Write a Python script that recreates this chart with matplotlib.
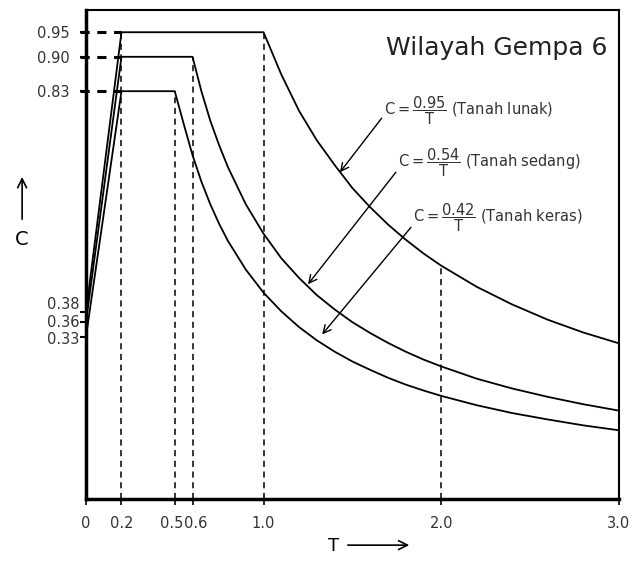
import matplotlib.pyplot as plt
from matplotlib.patches import FancyArrowPatch
from matplotlib.transforms import ScaledTranslation

plt.rcParams['mathtext.fontset'] = 'dejavusans'

# response spectrum, Wilayah Gempa 6
T_lunak = [0.0, 0.2, 1.0, 1.1, 1.2, 1.3, 1.4, 1.5, 1.6, 1.7, 1.8, 1.9, 2.0, 2.2, 2.4, 2.6, 2.8, 3.0]
C_lunak = [0.38, 0.95, 0.95, 0.864, 0.79, 0.73, 0.68, 0.633, 0.594, 0.559, 0.528, 0.50, 0.475,
           0.432, 0.396, 0.365, 0.339, 0.317]

T_sedang = [0.0, 0.2, 0.6, 0.65, 0.7, 0.75, 0.8, 0.9, 1.0, 1.1, 1.2, 1.3, 1.4, 1.5, 1.6, 1.7, 1.8,
            1.9, 2.0, 2.2, 2.4, 2.6, 2.8, 3.0]
C_sedang = [0.36, 0.90, 0.90, 0.83, 0.77, 0.72, 0.675, 0.60, 0.54, 0.49, 0.45, 0.415, 0.386, 0.36,
            0.338, 0.318, 0.30, 0.284, 0.27, 0.245, 0.225, 0.208, 0.193, 0.18]

T_keras = [0.0, 0.2, 0.5, 0.55, 0.6, 0.65, 0.7, 0.75, 0.8, 0.9, 1.0, 1.1, 1.2, 1.3, 1.4, 1.5, 1.6,
           1.7, 1.8, 1.9, 2.0, 2.2, 2.4, 2.6, 2.8, 3.0]
C_keras = [0.33, 0.83, 0.83, 0.764, 0.70, 0.646, 0.60, 0.56, 0.525, 0.467, 0.42, 0.382, 0.35, 0.323,
           0.30, 0.28, 0.263, 0.247, 0.233, 0.221, 0.21, 0.191, 0.175, 0.162, 0.15, 0.14]

xticks = [0, 0.2, 0.5, 0.6, 1.0, 2.0, 3.0]
xlabels = ['0', '0.2', '0.5', '0.6', '1.0', '2.0', '3.0']
yticks_top = [0.95, 0.90, 0.83]
yticks_low = [0.38, 0.36, 0.33]

# dashed guide lines: (T, C top)
vguides = [(0.2, 0.95), (0.5, 0.83), (0.6, 0.90), (1.0, 0.95), (2.0, 0.475)]

labels = [r'$\mathrm{C} = \dfrac{0.95}{\mathrm{T}}$ (Tanah lunak)',
          r'$\mathrm{C} = \dfrac{0.54}{\mathrm{T}}$ (Tanah sedang)',
          r'$\mathrm{C} = \dfrac{0.42}{\mathrm{T}}$ (Tanah keras)']

fig = plt.figure(figsize=(6.32, 5.62), dpi=100)
ax = fig.add_axes([0.136, 0.112, 0.843, 0.870])

ax.plot(T_lunak, C_lunak, color='black', lw=1.3)
ax.plot(T_sedang, C_sedang, color='black', lw=1.3)
ax.plot(T_keras, C_keras, color='black', lw=1.3)

for t, c in vguides:
    ax.plot([t, t], [0, c], color='black', lw=1.1, linestyle=(0, (4, 3)))
for c in yticks_top:
    ax.plot([-0.035, 0.2], [c, c], color='black', lw=2.2, linestyle=(0, (3, 2.5)), clip_on=False)

ax.set_xlim(0, 3.0)
ax.set_ylim(0, 0.995)
ax.set_xticks(xticks)
ax.set_xticklabels(xlabels, fontsize=10.5, color='#333333')
ax.set_yticks(yticks_top + yticks_low)
ax.set_yticklabels([f'{v:.2f}' for v in yticks_top] + ['', '', ''], fontsize=10.5, color='#333333')
ax.tick_params(axis='y', length=4, width=1.5, pad=8)
ax.tick_params(axis='x', length=4, width=1.2, pad=8)

# 0.5 and 0.6 sit tight together, nudge them apart a bit
xtl = ax.get_xticklabels()
for lbl, dx in [(xtl[2], -3), (xtl[3], 3)]:
    lbl.set_transform(lbl.get_transform() + ScaledTranslation(dx / 100, 0, fig.dpi_scale_trans))

# low tick labels are spread apart in the original so they don't overlap
for v, ypos in zip(yticks_low, [0.396, 0.360, 0.325]):
    ax.text(-0.035, ypos, f'{v:.2f}', fontsize=10.5, color='#333333', ha='right', va='center',
            clip_on=False)

for side in ['left', 'bottom']:
    ax.spines[side].set_linewidth(2.5)
for side in ['top', 'right']:
    ax.spines[side].set_linewidth(1.5)

# annotations with arrows
arrows = [((1.43, 0.665), (1.665, 0.775), (1.68, 0.79)),
          ((1.25, 0.437), (1.745, 0.665), (1.755, 0.685)),
          ((1.33, 0.335), (1.83, 0.553), (1.84, 0.573))]
for lab, (tip, tail, txt) in zip(labels, arrows):
    ax.annotate('', xy=tip, xytext=tail,
                arrowprops=dict(arrowstyle='->', lw=1.0, color='black', mutation_scale=14,
                                shrinkA=0, shrinkB=0))
    ax.text(txt[0], txt[1], lab, fontsize=10.5, color='#333333', ha='left', va='center')

ax.text(0.979, 0.922, 'Wilayah Gempa 6', transform=ax.transAxes, fontsize=18,
        ha='right', va='center', color='#222222')

# axis labels with arrows
fig.text(0.035, 0.573, 'C', fontsize=14, ha='center', va='center')
fig.add_artist(FancyArrowPatch((0.035, 0.605), (0.035, 0.690), transform=fig.transFigure,
                               arrowstyle='->', mutation_scale=16, lw=1.2, color='black'))
fig.text(0.527, 0.028, 'T', fontsize=13, ha='center', va='center')
fig.add_artist(FancyArrowPatch((0.546, 0.030), (0.652, 0.030), transform=fig.transFigure,
                               arrowstyle='->', mutation_scale=16, lw=1.2, color='black'))

fig.savefig('out.png', dpi=100)
